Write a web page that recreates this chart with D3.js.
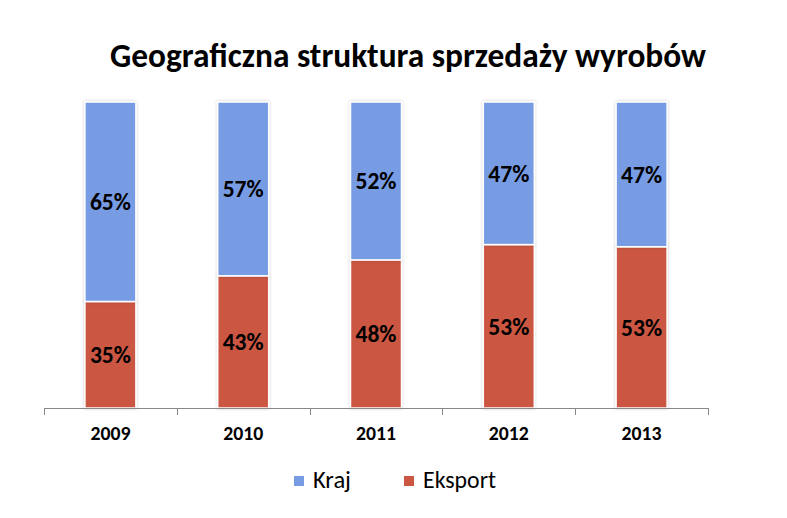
<!DOCTYPE html>
<html><head><meta charset="utf-8">
<script src="https://cdn.jsdelivr.net/npm/d3@7"></script>
<style>html,body{margin:0;padding:0;background:#fff;}svg{display:block;}</style>
</head><body>
<svg id="chart" width="787" height="518"></svg>
<script>
const categories = ["2009","2010","2011","2012","2013"];
const eksport = [34.8, 43.2, 48.4, 53.4, 52.7];
const kraj = [65.2, 56.8, 51.6, 46.6, 47.3];
const seriesNames = ["Kraj","Eksport"];
const colors = {Kraj:"#789CE3", Eksport:"#CB5642"};
const title = "Geograficzna struktura sprzedaży wyrobów";
const FONT = "Carlito, Calibri, Lato, 'Open Sans', sans-serif";

const svg = d3.select("#chart");
const defs = svg.append("defs");
const f = defs.append("filter").attr("id","sh").attr("x","-20%").attr("y","-5%").attr("width","140%").attr("height","110%");
f.append("feDropShadow").attr("dx",0).attr("dy",0).attr("stdDeviation",1.6).attr("flood-color","#000").attr("flood-opacity",0.22);

function fit(sel, w){
  const n = sel.node();
  const fs = parseFloat(sel.attr("font-size"));
  const cur = n.getComputedTextLength();
  sel.attr("font-size", (fs * w / cur).toFixed(2));
}

const x = d3.scaleBand().domain(categories).range([44,708]).paddingInner(0.616).paddingOuter(0.308);
const y = d3.scaleLinear().domain([0,100]).range([408,102]);

const rows = categories.map((c,i)=>({cat:c, Eksport:eksport[i], Kraj:kraj[i]}));
const stack = d3.stack().keys(["Eksport","Kraj"])(rows);

const g = svg.append("g");
stack.forEach(layer=>{
  const key = layer.key;
  g.selectAll(null).data(layer).join("rect")
    .attr("x", d=>x(d.data.cat))
    .attr("y", d=>y(d[1]))
    .attr("width", x.bandwidth())
    .attr("height", d=>y(d[0])-y(d[1]))
    .attr("fill", colors[key])
    .attr("stroke","#fff").attr("stroke-width",1.5)
    .attr("filter","url(#sh)");
});
stack.forEach(layer=>{
  g.selectAll(null).data(layer).join("text")
    .attr("x", d=>x(d.data.cat)+x.bandwidth()/2)
    .attr("y", d=>(y(d[0])+y(d[1]))/2)
    .attr("dy","0.35em")
    .attr("text-anchor","middle")
    .attr("font-family",FONT).attr("font-weight","bold").attr("font-size",20)
    .attr("fill","#000")
    .text(d=>d3.format(".0f")(d[1]-d[0])+"%")
    .each(function(){ fit(d3.select(this), 41); });
});

// axis
const step = x.step();
const bounds = categories.map(c=>x(c)-step*x.paddingInner()/2).concat([x(categories[categories.length-1])+x.bandwidth()+step*x.paddingInner()/2]);
const ax = svg.append("g").attr("transform","translate(0,408)");
ax.append("line").attr("x1",x.range()[0]).attr("x2",x.range()[1]).attr("y1",0.5).attr("y2",0.5).attr("stroke","#888").attr("stroke-width",1);
ax.selectAll(null).data(bounds).join("line")
  .attr("x1",d=>Math.round(d)+0.5).attr("x2",d=>Math.round(d)+0.5).attr("y1",0).attr("y2",7)
  .attr("stroke","#888").attr("stroke-width",1);
ax.selectAll(null).data(categories).join("text")
  .attr("x",d=>x(d)+x.bandwidth()/2).attr("y",32)
  .attr("text-anchor","middle")
  .attr("font-family",FONT).attr("font-weight","bold").attr("font-size",17)
  .attr("fill","#000").text(d=>d)
  .each(function(){ fit(d3.select(this), 40); });

// title
const t = svg.append("text").attr("x",408).attr("y",67).attr("text-anchor","middle")
  .attr("font-family",FONT).attr("font-weight","bold").attr("font-size",28).attr("fill","#000").text(title);
fit(t, 596);

// legend
const legX = [294, 404];
const leg = svg.append("g");
seriesNames.forEach((s,i)=>{
  leg.append("rect").attr("x",legX[i]).attr("y",476).attr("width",10).attr("height",10).attr("fill",colors[s]);
  const lt = leg.append("text").attr("x",legX[i]+19).attr("y",488)
    .attr("font-family",FONT).attr("font-size",20).attr("fill","#000").text(s);
  fit(lt, i===0?38:73);
});
</script>
</body></html>
